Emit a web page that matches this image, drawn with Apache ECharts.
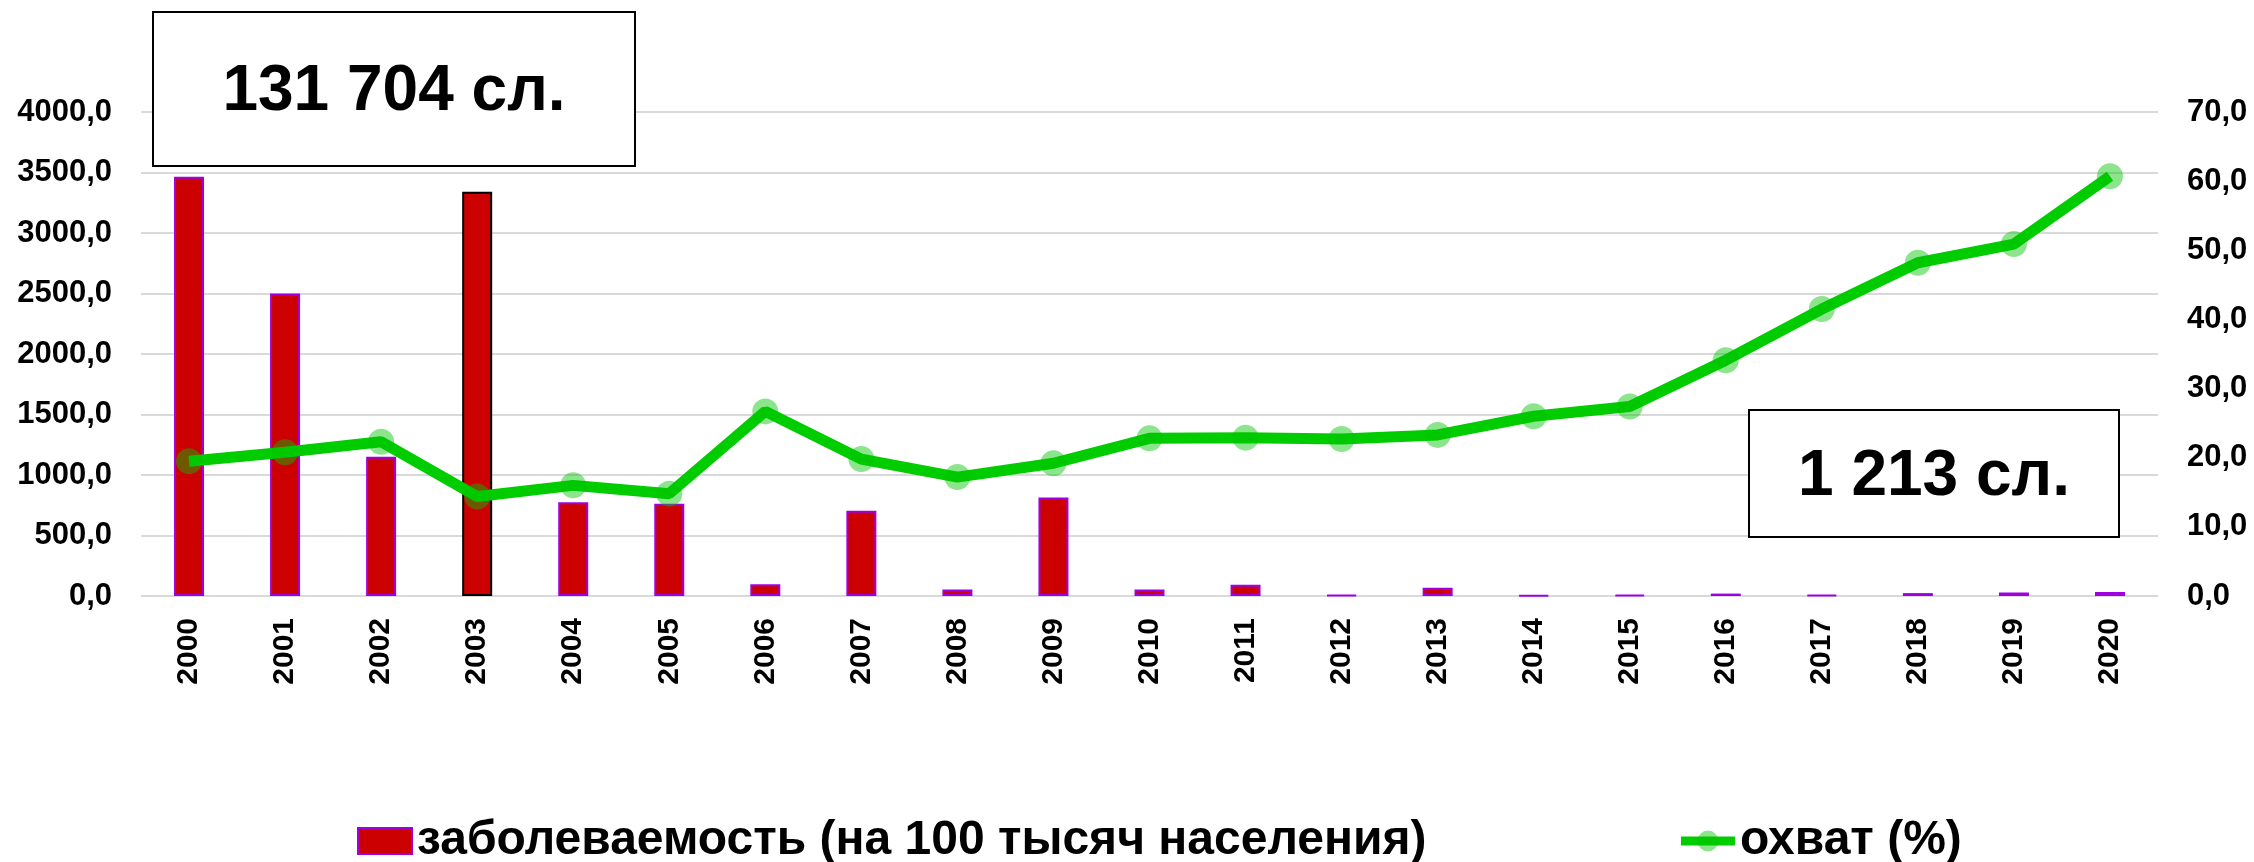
<!DOCTYPE html>
<html>
<head>
<meta charset="utf-8">
<script src="https://cdn.jsdelivr.net/npm/echarts@6/dist/echarts.min.js"></script>
<style>
  * { margin: 0; padding: 0; }
  html, body { background: #fff; }
  #main { width: 2254px; height: 862px; }
</style>
</head>
<body>
<div id="main"></div>
<script>
// годы
var years = ['2000', '2001', '2002', '2003', '2004', '2005', '2006', '2007', '2008', '2009', '2010',
             '2011', '2012', '2013', '2014', '2015', '2016', '2017', '2018', '2019', '2020'];
// заболеваемость на 100 тыс.
var incidence = [3465, 2500, 1150, 3340, 775, 762, 97, 705, 53, 815, 53,
                 94, 7, 69, 6, 10, 20, 8, 24, 29, 33];
// охват, %
var coverage = [19.5, 20.8, 22.3, 14.4, 16.0, 14.8, 26.7, 19.8, 17.2, 19.2, 22.8,
                22.9, 22.7, 23.3, 26.0, 27.4, 34.1, 41.5, 48.2, 50.9, 60.7];
var boxTexts = ['131 704 сл.', '1 213 сл.'];

var font = '"Liberation Sans", Arial, sans-serif';
var fmt = function (v) { return v.toFixed(1).replace('.', ','); };

var barData = incidence.map(function (v, i) {
    // у 2003 года чёрная рамка
    if (years[i] === '2003') return { value: v, itemStyle: { borderColor: '#000' } };
    return v;
});

var axisText = { fontSize: 31, fontWeight: 'bold', color: '#000', fontFamily: font };

var chart = echarts.init(document.getElementById('main'));
chart.setOption({
    backgroundColor: '#fff',
    animation: false,
    textStyle: { fontFamily: font },
    grid: { left: 141, right: 96, top: 112, bottom: 266 },
    legend: {
        left: 352,
        top: 812,
        itemGap: 250,
        itemWidth: 54,
        itemHeight: 26,
        textStyle: { fontSize: 48, fontWeight: 'bold', color: '#000', fontFamily: font },
        data: [
            { name: 'заболеваемость (на 100 тысяч населения)', icon: 'rect' },
            { name: 'охват (%)', lineStyle: { width: 9 } }
        ]
    },
    xAxis: {
        type: 'category',
        data: years,
        axisLine: { show: false },
        axisTick: { show: false },
        axisLabel: Object.assign({ rotate: 90, margin: 22 }, axisText, { fontSize: 30 })
    },
    yAxis: [{
        type: 'value',
        min: 0,
        max: 4000,
        interval: 500,
        axisLine: { show: false },
        axisTick: { show: false },
        splitLine: { lineStyle: { color: '#d9d9d9', width: 2 } },
        axisLabel: Object.assign({ margin: 29, formatter: fmt }, axisText)
    }, {
        type: 'value',
        min: 0,
        max: 70,
        interval: 10,
        axisLine: { show: false },
        axisTick: { show: false },
        splitLine: { show: false },
        axisLabel: Object.assign({ margin: 29, formatter: fmt }, axisText)
    }],
    series: [{
        name: 'заболеваемость (на 100 тысяч населения)',
        type: 'bar',
        barWidth: 30,
        itemStyle: { color: '#cc0000', borderColor: '#a000e0', borderWidth: 2 },
        data: barData
    }, {
        name: 'охват (%)',
        type: 'line',
        yAxisIndex: 1,
        symbol: 'circle',
        symbolSize: 26,
        lineStyle: { color: '#00cc00', width: 11 },
        itemStyle: { color: 'rgba(0,195,0,0.45)' },
        z: 5,
        data: coverage
    }],
    graphic: [{
        type: 'rect',
        z: 100,
        shape: { x: 153, y: 12, width: 482, height: 154 },
        style: { fill: '#fff', stroke: '#000', lineWidth: 2 }
    }, {
        type: 'text',
        z: 101,
        x: 394, y: 92,
        style: { text: boxTexts[0], font: 'bold 64px ' + font, fill: '#000', align: 'center', verticalAlign: 'middle' }
    }, {
        type: 'rect',
        z: 100,
        shape: { x: 1749, y: 410, width: 370, height: 127 },
        style: { fill: '#fff', stroke: '#000', lineWidth: 2 }
    }, {
        type: 'text',
        z: 101,
        x: 1934, y: 477,
        style: { text: boxTexts[1], font: 'bold 64px ' + font, fill: '#000', align: 'center', verticalAlign: 'middle' }
    }]
});
</script>
</body>
</html>
